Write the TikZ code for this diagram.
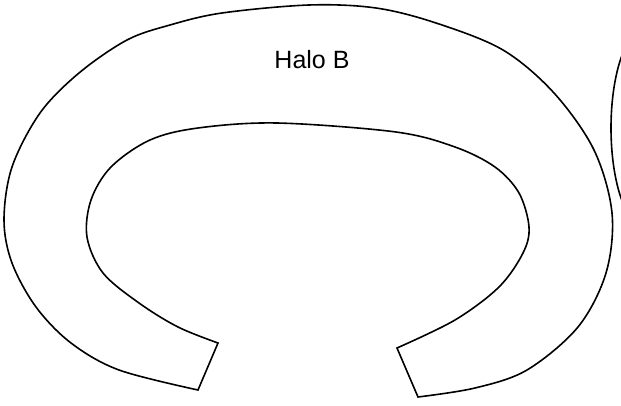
\documentclass[tikz,border=0pt]{standalone}
\usepackage{fontspec}
\setmainfont{Liberation Sans}
\begin{document}
\begin{tikzpicture}[x=1pt,y=-1pt,
  outline/.style={draw=black,line width=1.6pt,line join=miter},
  lbl/.style={font=\fontsize{25}{30}\selectfont,text=black}]
\useasboundingbox (0,0) rectangle (621,406);
\clip (0,0) rectangle (621,406);
% horseshoe halo
\draw[outline] plot[smooth,tension=0.55] coordinates {(198,390) (119,370) (71,343) (36,307) (12,263) (4,220) (12,167) (40,113) (79,73) (127,40) (170,25) (222,13) (309,5) (376,8) (436,23) (503,50) (554,93) (594,150) (612,213) (606,273) (578,327) (527,370) (475,388) (418,397)}
  -- plot[smooth,tension=0.55] coordinates {(397,348) (455,320) (499,287) (523,253) (529,227) (519,193) (495,167) (455,147) (396,132) (277,123) (198,128) (150,140) (111,167) (91,200) (87,237) (103,273) (139,303) (178,327) (218,343)}
  -- cycle;
% partial shape at right edge
\draw[outline] (646,128) ellipse [x radius=35, y radius=100];
\node[lbl] (haloB) at (312,60) {Halo B};
\end{tikzpicture}
\end{document}
